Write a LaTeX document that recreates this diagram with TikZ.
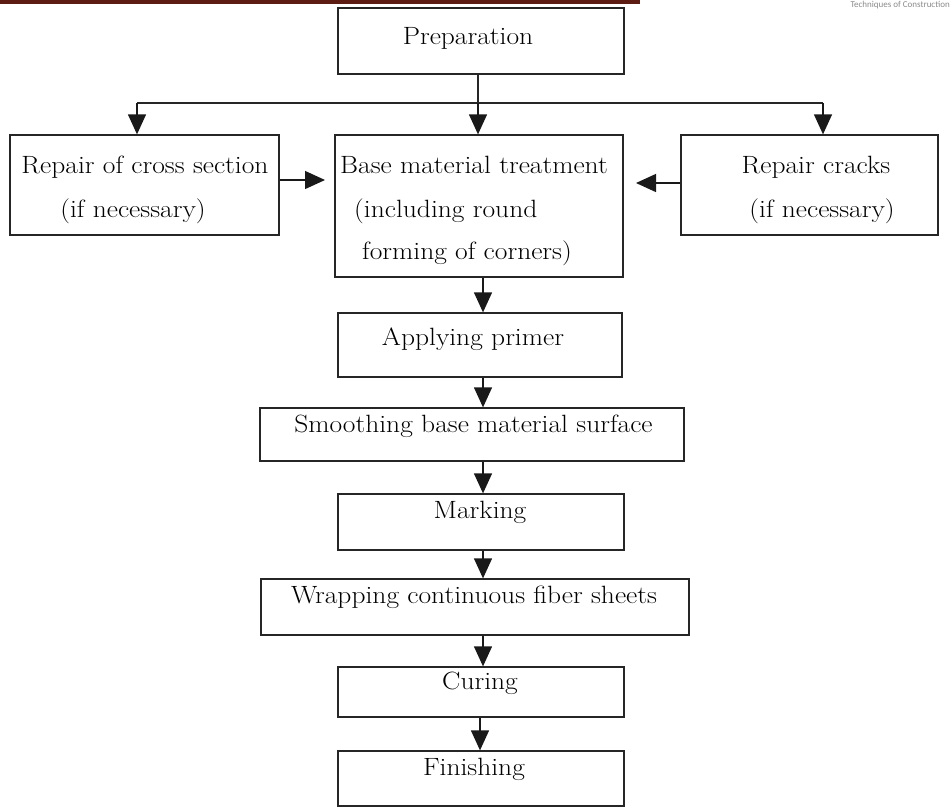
\documentclass[tikz,border=0pt]{standalone}
\usepackage{fontspec}
\newfontfamily\hdrfont{Carlito}
\newfontfamily\widefont{Latin Modern Roman}[FakeStretch=1.1]
\usetikzlibrary{arrows.meta}
\definecolor{hdrred}{HTML}{5C1C12}
\definecolor{hdrgray}{HTML}{8A8A8A}
\tikzset{
  box/.style={draw=black!85, line width=1.3pt, rectangle, inner sep=0pt},
  txt/.style={anchor=base, inner sep=0pt, font=\widefont\fontsize{25}{30}\selectfont},
  txtw/.style={anchor=base west, inner sep=0pt, font=\widefont\fontsize{25}{30}\selectfont},
  arr/.style={draw=black!90, line width=1.3pt, -{Triangle[length=20pt,width=18pt]}},
  ln/.style={draw=black!85, line width=1.3pt}
}
\begin{document}
\begin{tikzpicture}[x=1pt,y=1pt]
\useasboundingbox (0,0) rectangle (950,-807);
% header
\fill[hdrred] (0,0) rectangle (640,-4);
\node[anchor=north east, inner sep=0pt, text=hdrgray, font=\hdrfont\fontsize{9}{10}\selectfont] (hdr) at (950,-1) {Techniques of Construction};
% boxes
\node[box, minimum width=286, minimum height=66] (prep) at (481,-41) {};
\node[box, minimum width=269, minimum height=100] (left) at (144.5,-185) {};
\node[box, minimum width=288, minimum height=142] (cen) at (479,-206) {};
\node[box, minimum width=257, minimum height=100] (right) at (809.5,-185) {};
\node[box, minimum width=284, minimum height=64] (primer) at (480,-345) {};
\node[box, minimum width=424, minimum height=53] (smooth) at (472,-434.5) {};
\node[box, minimum width=286, minimum height=56] (mark) at (481,-522) {};
\node[box, minimum width=428, minimum height=56] (wrap) at (475,-607) {};
\node[box, minimum width=286, minimum height=50] (cur) at (481,-692) {};
\node[box, minimum width=286, minimum height=55] (fin) at (481,-778.5) {};
% texts
\node[txt] (tprep) at (468,-44) {Preparation};
\node[txt] (tl1) at (145,-173) {Repair of cross section};
\node[txt] (tl2) at (133,-217) {(if necessary)};
\node[txtw] (tc1) at (340,-173) {Base material treatment};
\node[txtw] (tc2) at (354,-217) {(including round};
\node[txtw] (tc3) at (362,-259) {forming of corners)};
\node[txt] (tr1) at (816,-173) {Repair cracks};
\node[txt] (tr2) at (822,-217) {(if necessary)};
\node[txt] (tprim) at (473,-345) {Applying primer};
\node[txt] (tsm) at (473.5,-432) {Smoothing base material surface};
\node[txt] (tmk) at (480,-518) {Marking};
\node[txt] (twr) at (474,-603) {Wrapping continuous fiber sheets};
\node[txt] (tcu) at (480,-689) {Curing};
\node[txt] (tfi) at (474,-775) {Finishing};
% top tree
\coordinate (jc) at (478,-103);
\coordinate (jl) at (137,-103);
\coordinate (jr) at (823,-103);
\draw[ln] (prep.south -| jc) -- (jc);
\draw[ln] (jl) -- (jr);
\draw[arr] (jc) -- (jc |- cen.north);
\draw[arr] (jl) -- (jl |- left.north);
\draw[arr] (jr) -- (jr |- right.north);
% side arrows
\coordinate (la) at (325,-180);
\coordinate (ra) at (636,-183);
\draw[arr] (left.east |- la) -- (la);
\draw[arr] (right.west |- ra) -- (ra);
% vertical chain
\coordinate (x1) at (483,0);
\draw[arr] (cen.south -| x1) -- (primer.north -| x1);
\draw[arr] (primer.south -| x1) -- (smooth.north -| x1);
\draw[arr] (smooth.south -| x1) -- (mark.north -| x1);
\draw[arr] (mark.south -| x1) -- (wrap.north -| x1);
\draw[arr] (wrap.south -| x1) -- (cur.north -| x1);
\coordinate (x2) at (480,0);
\draw[arr] (cur.south -| x2) -- (fin.north -| x2);
\end{tikzpicture}
\end{document}
